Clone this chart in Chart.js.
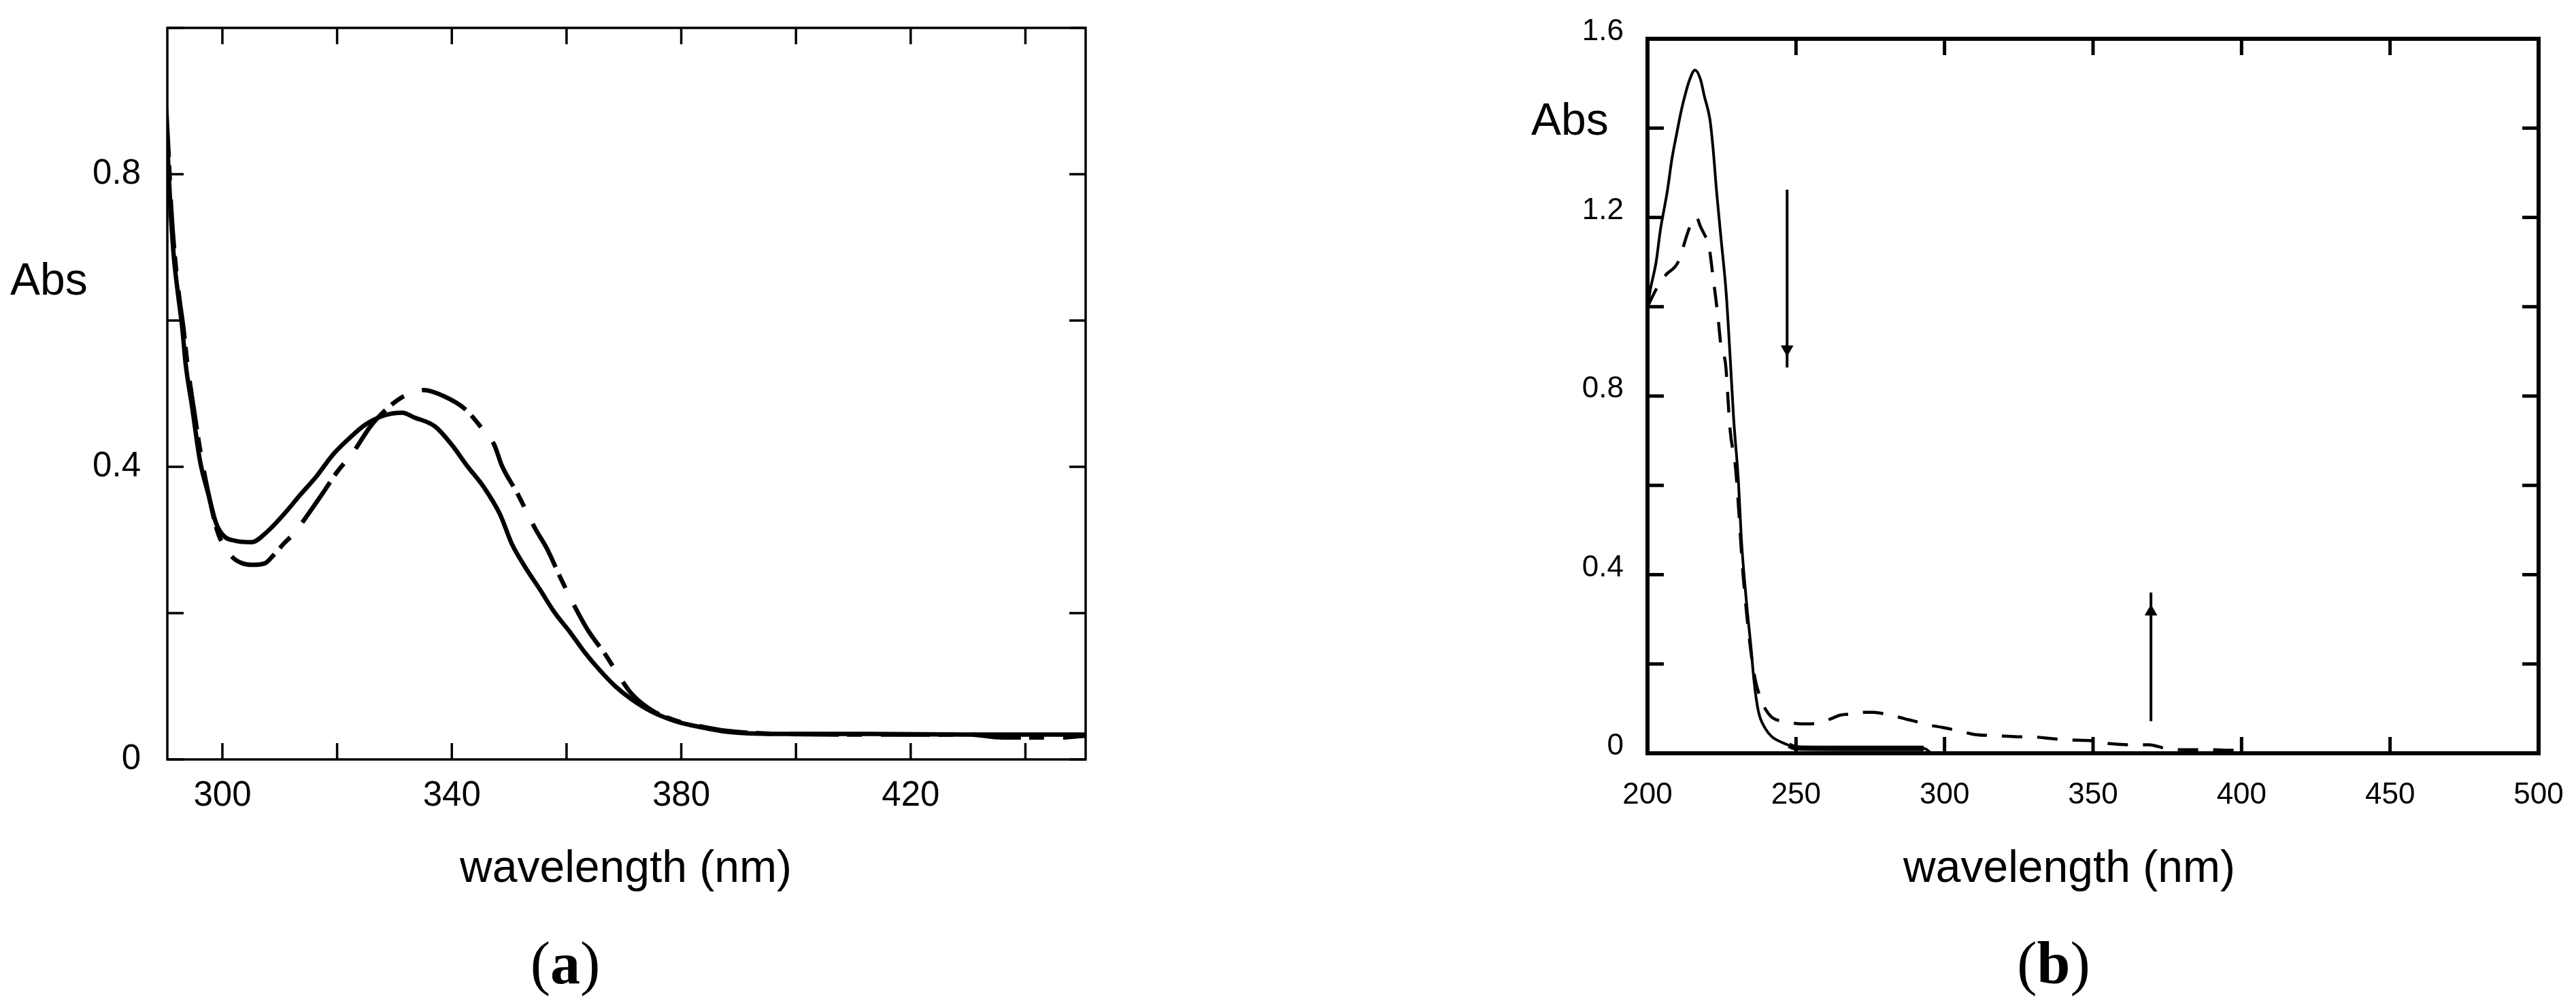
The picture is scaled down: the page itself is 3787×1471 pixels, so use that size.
<!DOCTYPE html>
<html>
<head>
<meta charset="utf-8">
<script src="https://cdn.jsdelivr.net/npm/chart.js@4.4.1/dist/chart.umd.min.js"></script>
<style>
  html, body { margin: 0; padding: 0; background: #fff; }
  body { width: 3787px; height: 1471px; position: relative; overflow: hidden;
         font-family: 'Liberation Sans', Arial, sans-serif; color: #000; }
  canvas { position: absolute; }
  .t { position: absolute; line-height: 1; white-space: nowrap; }
  .serif { font-family: 'Liberation Serif', 'Times New Roman', serif; }
</style>
</head>
<body>
<canvas id="ca" width="1700" height="1300" style="left:0;top:0;width:1700px;height:1300px"></canvas>
<canvas id="cb" width="1587" height="1300" style="left:2200px;top:0;width:1587px;height:1300px"></canvas>

<div class="t" style="left:15px;top:410px;transform:translateY(-50%);font-size:66px">Abs</div>
<div class="t" style="left:920px;top:1240px;transform:translateX(-50%);font-size:66px">wavelength (nm)</div>
<div class="t serif" style="left:831px;top:1372px;transform:translateX(-50%);font-size:88px">(<b>a</b>)</div>

<div class="t" style="left:2251px;top:175px;transform:translateY(-50%);font-size:66px">Abs</div>
<div class="t" style="left:3042px;top:1240px;transform:translateX(-50%);font-size:66px">wavelength (nm)</div>
<div class="t serif" style="left:3019px;top:1372px;transform:translateX(-50%);font-size:88px">(<b>b</b>)</div>

<script>
// ---------------- Panel (a) data ----------------
const waveSolidA = [290, 290.4, 290.9, 291.5, 292.2, 293.0, 293.6, 294.7, 296.1, 297.5, 298.9, 300.3, 302.2, 305.1, 307.9, 310.7, 313.5, 316.4, 319.2, 322.0, 324.8, 328.1, 331.4, 333.3, 337.1, 339.9, 342.7, 345.6, 348.4, 350.5, 352.7, 355.3, 357.9, 360.6, 363.2, 365.9, 368.5, 371.2, 374.7, 379.1, 383.5, 387.9, 396.7, 412.6, 430, 451];
const absSolidA  = [0.90, 0.84, 0.76, 0.69, 0.64, 0.59, 0.54, 0.483, 0.408, 0.364, 0.323, 0.305, 0.299, 0.297, 0.312, 0.335, 0.361, 0.387, 0.416, 0.438, 0.457, 0.470, 0.474, 0.468, 0.455, 0.431, 0.401, 0.372, 0.335, 0.294, 0.264, 0.233, 0.201, 0.174, 0.146, 0.121, 0.100, 0.083, 0.066, 0.052, 0.044, 0.038, 0.035, 0.035, 0.034, 0.034];

const waveDashA = [289.6, 290.2, 290.6, 291.1, 291.8, 292.5, 293.2, 293.9, 295.0, 296.4, 297.8, 299.0, 299.9, 301.8, 303.5, 305.3, 307.4, 309.0, 310.7, 312.6, 315.2, 317.5, 320.0, 322.9, 325.6, 327.2, 329.5, 332.0, 335.2, 338.5, 342.3, 345.6, 347.4, 348.7, 351.4, 354.5, 356.6, 358.9, 361.5, 363.7, 366.8, 369.4, 371.2, 374.7, 379.1, 383.5, 387.9, 396.7, 412.0, 430.0, 436.0, 446.0, 451.0];
const absDashA  = [0.95, 0.89, 0.83, 0.75, 0.68, 0.63, 0.59, 0.54, 0.48, 0.41, 0.355, 0.315, 0.297, 0.276, 0.268, 0.266, 0.268, 0.28, 0.295, 0.31, 0.338, 0.364, 0.393, 0.421, 0.453, 0.468, 0.485, 0.498, 0.505, 0.497, 0.479, 0.449, 0.430, 0.402, 0.364, 0.316, 0.288, 0.249, 0.208, 0.177, 0.143, 0.111, 0.091, 0.068, 0.053, 0.045, 0.039, 0.035, 0.034, 0.034, 0.030, 0.030, 0.033];

const xTicksA = [300, 320, 340, 360, 380, 400, 420, 440];
const xTickLabelsA = ['300', '', '340', '', '380', '', '420', ''];
const yTicksA = [0, 0.2, 0.4, 0.6, 0.8, 1.0];
const yTickLabelsA = ['0', '', '0.4', '', '0.8', ''];

// ---------------- Panel (b) data ----------------
const waveSolidB = [200, 201, 202.9, 204.3, 206.7, 208.2, 209.9, 211.4, 212.5, 214, 216, 217.8, 219.2, 221, 222, 223.3, 224.8, 226.5, 227.8, 229, 230.6, 231.6, 233.3, 234.8, 235.9, 237.3, 239.7, 241.9, 244.4, 247.6, 250, 270, 293, 296, 350, 400];
const absSolidB  = [1.00, 1.04, 1.10, 1.17, 1.26, 1.33, 1.39, 1.44, 1.47, 1.505, 1.53, 1.51, 1.47, 1.42, 1.36, 1.255, 1.15, 1.03, 0.89, 0.75, 0.61, 0.48, 0.34, 0.24, 0.16, 0.095, 0.055, 0.037, 0.027, 0.018, 0.012, 0.011, 0.011, 0.0, 0.0, 0.0];

const waveDashB = [200, 203, 206, 210.3, 213.5, 215.3, 216.5, 217.8, 219.3, 220.6, 222, 223.6, 224.8, 226.3, 227.8, 229.7, 232.3, 235.6, 238.5, 240.1, 242, 245, 248.7, 252, 255, 259.3, 262, 264.6, 268, 272, 276, 280, 284, 288, 291, 294.2, 299.3, 305, 310.3, 315, 318.8, 325.2, 331.6, 335.8, 342, 349.6, 355, 362.6, 369, 372, 375, 381.5, 389, 395.4, 401.8];
const absDashB  = [1.00, 1.04, 1.07, 1.10, 1.165, 1.195, 1.20, 1.18, 1.16, 1.14, 1.07, 0.985, 0.91, 0.87, 0.725, 0.635, 0.39, 0.19, 0.115, 0.095, 0.08, 0.072, 0.068, 0.066, 0.066, 0.072, 0.078, 0.085, 0.088, 0.092, 0.092, 0.088, 0.082, 0.075, 0.07, 0.064, 0.058, 0.05, 0.042, 0.04, 0.039, 0.037, 0.036, 0.033, 0.03, 0.028, 0.022, 0.019, 0.019, 0.015, 0.01, 0.008, 0.008, 0.007, 0.006];

// arrows (wavelength, absorbance)
const arrowDownWave = [247, 247];
const arrowDownAbs  = [1.262, 0.864];
const arrowDownHead = [0.905];
const arrowUpWave   = [369.5, 369.5];
const arrowUpAbs    = [0.072, 0.36];
const arrowUpHead   = [0.317];

const xTicksB = [200, 250, 300, 350, 400, 450, 500];
const xTickLabelsB = ['200', '250', '300', '350', '400', '450', '500'];
const yTicksB = [0, 0.2, 0.4, 0.6, 0.8, 1.0, 1.2, 1.4, 1.6];
const yTickLabelsB = ['0', '', '0.4', '', '0.8', '', '1.2', '', '1.6'];

// ---------------- helpers ----------------
const zip = (xs, ys) => xs.map((x, i) => ({ x: x, y: ys[i] }));

Chart.defaults.font.family = "'Liberation Sans', Arial, sans-serif";
Chart.defaults.color = '#000';

const frameTicks = {
  id: 'frameTicks',
  afterDatasetsDraw(chart, args, o) {
    const { ctx, chartArea: { left, right, top, bottom }, scales: { x, y } } = chart;
    ctx.save();
    ctx.strokeStyle = '#000';
    ctx.lineCap = 'butt';
    ctx.lineWidth = o.tickWidth;
    ctx.beginPath();
    x.ticks.forEach(t => {
      const px = x.getPixelForValue(t.value);
      ctx.moveTo(px, bottom); ctx.lineTo(px, bottom - o.tickLen);
      ctx.moveTo(px, top);    ctx.lineTo(px, top + o.tickLen);
    });
    y.ticks.forEach(t => {
      const py = y.getPixelForValue(t.value);
      ctx.moveTo(left, py);  ctx.lineTo(left + o.tickLen, py);
      ctx.moveTo(right, py); ctx.lineTo(right - o.tickLen, py);
    });
    ctx.stroke();
    ctx.lineWidth = o.frameWidth;
    ctx.strokeRect(left, top, right - left, bottom - top);
    ctx.restore();
  }
};

function zeroPad(s) { s.paddingTop = 0; s.paddingBottom = 0; s.paddingLeft = 0; s.paddingRight = 0; }

function makeOptions(cfg) {
  return {
    responsive: false,
    animation: false,
    devicePixelRatio: 1,
    events: [],
    layout: { padding: cfg.padding, autoPadding: false },
    plugins: {
      legend: { display: false },
      tooltip: { enabled: false },
      frameTicks: cfg.frame
    },
    scales: {
      x: {
        type: 'linear', min: cfg.xMin, max: cfg.xMax,
        grid: { display: false, drawTicks: false },
        border: { display: false },
        afterBuildTicks: s => { s.ticks = cfg.xTicks.map(v => ({ value: v })); },
        afterFit: s => { s.height = cfg.xHeight; zeroPad(s); },
        ticks: {
          font: { size: cfg.tickFont }, color: '#000', padding: cfg.xPad,
          maxRotation: 0, autoSkip: false,
          callback: (v, i) => cfg.xLabels[i]
        }
      },
      y: {
        type: 'linear', min: cfg.yMin, max: cfg.yMax,
        grid: { display: false, drawTicks: false },
        border: { display: false },
        afterBuildTicks: s => { s.ticks = cfg.yTicks.map(v => ({ value: v })); },
        afterFit: s => { s.width = cfg.yWidth; zeroPad(s); },
        ticks: {
          font: { size: cfg.tickFont }, color: '#000', padding: cfg.yPad,
          labelOffset: cfg.yLabelOffset, autoSkip: false,
          callback: (v, i) => cfg.yLabels[i]
        }
      }
    }
  };
}

// ---------------- Chart (a) ----------------
new Chart(document.getElementById('ca'), {
  type: 'line',
  data: {
    datasets: [
      { data: zip(waveSolidA, absSolidA), borderColor: '#000', borderWidth: 6.5,
        pointRadius: 0, cubicInterpolationMode: 'monotone', fill: false },
      { data: zip(waveDashA, absDashA), borderColor: '#000', borderWidth: 6.5,
        borderDash: [72, 12, 22, 28], borderCapStyle: 'butt',
        pointRadius: 0, cubicInterpolationMode: 'monotone', fill: false }
    ]
  },
  options: makeOptions({
    padding: { left: 0, top: 41, right: 104, bottom: 0 },
    xMin: 290.4, xMax: 450.5, yMin: 0, yMax: 1.0,
    xTicks: xTicksA, xLabels: xTickLabelsA, yTicks: yTicksA, yLabels: yTickLabelsA,
    xHeight: 184, yWidth: 246, tickFont: 51, xPad: 23, yPad: 39, yLabelOffset: 0,
    frame: { tickLen: 24, tickWidth: 3.5, frameWidth: 3.5 }
  }),
  plugins: [frameTicks]
});

// ---------------- Chart (b) ----------------
new Chart(document.getElementById('cb'), {
  type: 'line',
  data: {
    datasets: [
      { data: zip(waveSolidB, absSolidB), borderColor: '#000', borderWidth: 4,
        pointRadius: 0, cubicInterpolationMode: 'monotone', fill: false,
        segment: {
          borderWidth: c => (c.p0.parsed.x >= 247 && c.p1.parsed.x <= 293) ? 8 : undefined
        } },
      { data: zip(waveDashB, absDashB), borderColor: '#000', borderWidth: 4.5,
        borderDash: [30, 22], borderCapStyle: 'butt',
        pointRadius: 0, cubicInterpolationMode: 'monotone', fill: false },
      { data: zip(arrowDownWave, arrowDownAbs), borderColor: '#000', borderWidth: 4,
        pointRadius: 0, fill: false },
      { data: zip([arrowDownWave[0]], arrowDownHead), showLine: false,
        pointStyle: 'triangle', rotation: 180, pointRadius: 10,
        backgroundColor: '#000', borderColor: '#000', borderWidth: 1 },
      { data: zip(arrowUpWave, arrowUpAbs), borderColor: '#000', borderWidth: 4,
        pointRadius: 0, fill: false },
      { data: zip([arrowUpWave[0]], arrowUpHead), showLine: false,
        pointStyle: 'triangle', rotation: 0, pointRadius: 10,
        backgroundColor: '#000', borderColor: '#000', borderWidth: 1 }
    ]
  },
  options: makeOptions({
    padding: { left: 0, top: 57, right: 55, bottom: 0 },
    xMin: 200, xMax: 500, yMin: 0, yMax: 1.6,
    xTicks: xTicksB, xLabels: xTickLabelsB, yTicks: yTicksB, yLabels: yTickLabelsB,
    xHeight: 193, yWidth: 222, tickFont: 44, xPad: 35, yPad: 35, yLabelOffset: -10,
    frame: { tickLen: 24, tickWidth: 5, frameWidth: 6 }
  }),
  plugins: [frameTicks]
});
</script>
</body>
</html>
